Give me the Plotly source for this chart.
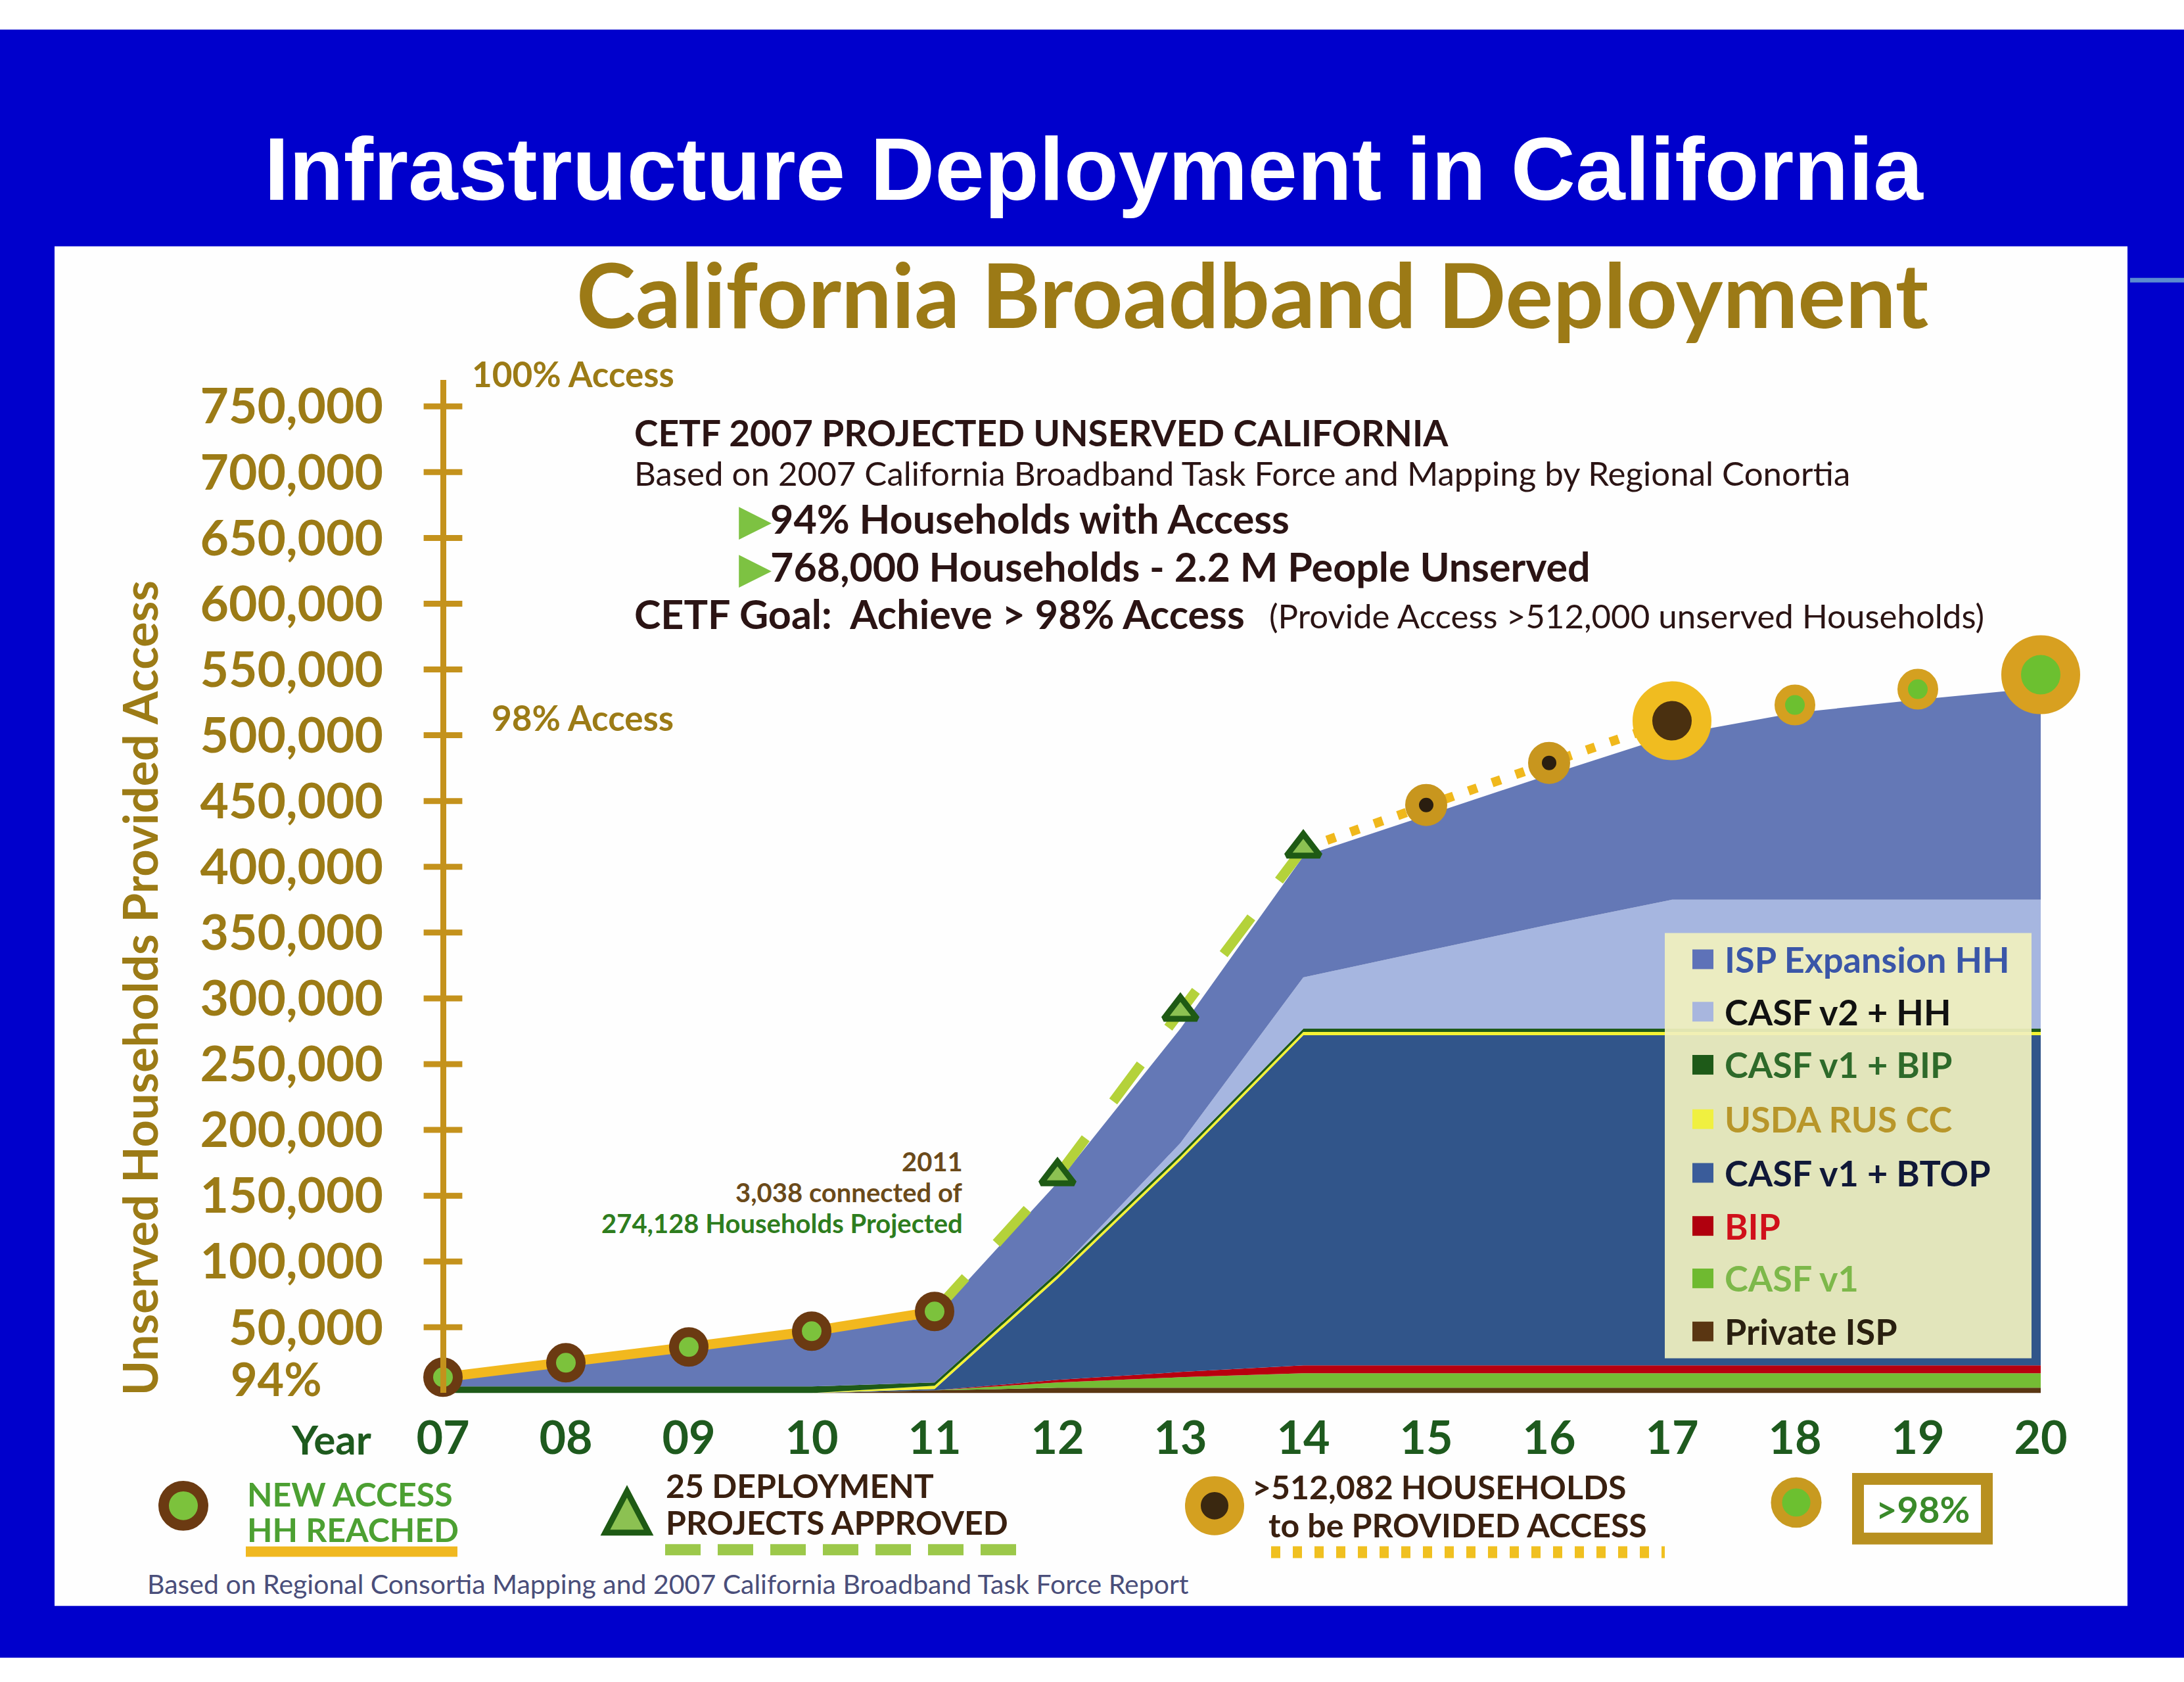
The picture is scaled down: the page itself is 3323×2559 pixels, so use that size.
import plotly.graph_objects as go

W, H = 3323, 2559

# ---------------- data ----------------
year_values = [7, 8, 9, 10, 11, 12, 13, 14, 15, 16, 17, 18, 19, 20]
year_labels = ["07", "08", "09", "10", "11", "12", "13", "14", "15", "16", "17", "18", "19", "20"]

# stacked layers (households), bottom -> top
private_isp   = [0, 0, 0, 0, 2000, 4000, 4000, 4000, 4000, 4000, 4000, 4000, 4000, 4000]
casf_v1       = [0, 0, 0, 0, 0, 4000, 8000, 11000, 11000, 11000, 11000, 11000, 11000, 11000]
bip           = [0, 0, 0, 0, 0, 2000, 4000, 6000, 6000, 6000, 6000, 6000, 6000, 6000]
casf_v1_btop  = [0, 0, 0, 0, 1000, 77000, 161000, 251000, 251000, 251000, 251000, 251000, 251000, 251000]
usda_rus_cc   = [0, 0, 0, 0, 2500, 2500, 2500, 2500, 2500, 2500, 2500, 2500, 2500, 2500]
casf_v1_bip   = [5000, 5000, 5000, 5000, 2500, 2500, 2500, 2500, 2500, 2500, 2500, 2500, 2500, 2500]
casf_v2_hh    = [0, 0, 0, 0, 0, 0, 8000, 39000, 59000, 79000, 98000, 98000, 98000, 98000]
isp_expansion = [4000, 16000, 28000, 40000, 50000, 68000, 87000, 92000, 103000, 114000, 125000, 142000, 152000, 161000]

layer_names = ["Private ISP", "CASF v1", "BIP", "CASF v1 + BTOP", "USDA RUS CC",
               "CASF v1 + BIP", "CASF v2 + HH", "ISP Expansion HH"]
layer_values = [private_isp, casf_v1, bip, casf_v1_btop, usda_rus_cc,
                casf_v1_bip, casf_v2_hh, isp_expansion]
layer_colors = ["#5A3612", "#74BC34", "#B8000F", "#31558A", "#F4F234",
                "#1E5A18", "#A6B6E0", "#6478B6"]
legend_swatch_colors = ["#5A3612", "#6FBA30", "#B0000E", "#3A5C9A", "#F0F040",
                        "#1E5A18", "#A8B6DE", "#5E72B8"]
legend_text_colors = ["#2A2010", "#7DB84A", "#D0101A", "#101838", "#B8962A",
                      "#2E6A2A", "#111111", "#3A56A8"]

new_access_years = [7, 8, 9, 10, 11]
new_access_hh = [12000, 23000, 35000, 47000, 62000]

projects_years = [11, 12, 13, 14]
projects_hh = [62000, 165000, 290000, 414000]

provided_years = [14, 15, 16, 17, 18, 19, 20]
provided_hh = [414000, 447000, 479000, 511000, 523000, 535000, 546000]

y_tick_values = [50000, 100000, 150000, 200000, 250000, 300000, 350000, 400000,
                 450000, 500000, 550000, 600000, 650000, 700000, 750000]
y_tick_labels = ["50,000", "100,000", "150,000", "200,000", "250,000", "300,000", "350,000",
                 "400,000", "450,000", "500,000", "550,000", "600,000", "650,000",
                 "700,000", "750,000"]

# ---------------- helpers ----------------
def X(px):
    return px / W


def Y(py):
    return 1 - py / H


LATO = "Lato, 'Open Sans', sans-serif"
GOLD = "#9C7B16"
AXIS_GOLD = "#C4921C"

fig = go.Figure()

# stacked areas
for name, vals, col in zip(layer_names, layer_values, layer_colors):
    fig.add_trace(go.Scatter(
        x=year_values, y=vals, name=name, stackgroup="hh", mode="lines",
        line=dict(width=0, color=col), fillcolor=col, showlegend=False,
        hoverinfo="skip"))

# dashed projects line
fig.add_trace(go.Scatter(
    x=projects_years, y=projects_hh, mode="lines", showlegend=False,
    line=dict(color="#B4D23A", width=15, dash="70px,70px"), hoverinfo="skip"))

# dotted provided line (14 -> 17)
fig.add_trace(go.Scatter(
    x=provided_years[:4], y=provided_hh[:4], mode="lines", showlegend=False,
    line=dict(color="#F0B81C", width=14, dash="14px,24px"), hoverinfo="skip"))

# new access line + markers
fig.add_trace(go.Scatter(
    x=new_access_years, y=new_access_hh, mode="lines+markers", showlegend=False,
    line=dict(color="#F2B81E", width=15),
    marker=dict(size=45, color="#7CC23C", opacity=1, line=dict(color="#6B3A12", width=15)),
    cliponaxis=False, hoverinfo="skip"))

# triangles
fig.add_trace(go.Scatter(
    x=projects_years[1:], y=projects_hh[1:], mode="markers", showlegend=False,
    marker=dict(symbol="triangle-up", size=44, color="#8CC152", opacity=1,
                line=dict(color="#1E5A14", width=9)),
    cliponaxis=False, hoverinfo="skip"))

# provided markers (15..20)
fig.add_trace(go.Scatter(
    x=provided_years[1:], y=provided_hh[1:], mode="markers", showlegend=False,
    marker=dict(size=[43, 43, 90, 46, 46, 90], opacity=1,
                color=["#2A1E10", "#2A1E10", "#4A3010", "#6CC030", "#6CC030", "#6CC030"],
                line=dict(color=["#C8961E", "#C8961E", "#F0BC20", "#D4A020", "#D4A020", "#D8A020"],
                          width=[21, 21, 30, 16, 16, 30])),
    cliponaxis=False, hoverinfo="skip"))

# cross tick marks on the y axis
fig.add_trace(go.Scatter(
    x=[year_values[0]] * len(y_tick_values), y=y_tick_values, mode="markers",
    showlegend=False, cliponaxis=False, hoverinfo="skip",
    marker=dict(symbol="line-ew", size=42, color=AXIS_GOLD, opacity=1,
                line=dict(color=AXIS_GOLD, width=9))))

# ---------------- shapes ----------------
shapes = []
# blue slide band
shapes.append(dict(type="rect", xref="paper", yref="paper", layer="below",
                   x0=0, x1=1, y0=Y(2522), y1=Y(37), fillcolor="#0000CC", line=dict(width=0)))
# white panel
shapes.append(dict(type="rect", xref="paper", yref="paper", layer="below",
                   x0=X(83), x1=X(3237), y0=Y(2443), y1=Y(368), fillcolor="#FEFEFE", line=dict(width=0)))
# small steel-blue rule at right
shapes.append(dict(type="rect", xref="paper", yref="paper", layer="below",
                   x0=X(3241), x1=1, y0=Y(423), y1=Y(416), fillcolor="#5B8BD0", line=dict(width=0)))

# legend box
shapes.append(dict(type="rect", xref="paper", yref="paper", layer="above",
                   x0=X(2533), x1=X(3091), y0=Y(2065), y1=Y(1416),
                   fillcolor="rgba(240,240,190,0.93)", line=dict(width=0)))
legend_rows = [1456, 1536, 1617, 1700, 1782, 1863, 1943, 2024]
annotations = []
for i, row in enumerate(legend_rows):
    k = len(layer_names) - 1 - i
    shapes.append(dict(type="rect", xref="paper", yref="paper", layer="above",
                       x0=X(2575), x1=X(2607), y0=Y(row + 15), y1=Y(row - 15),
                       fillcolor=legend_swatch_colors[k], line=dict(width=0)))
    annotations.append(dict(x=X(2622), y=Y(row), xref="paper", yref="paper",
                            xanchor="left", yanchor="middle", showarrow=False,
                            text=layer_names[k],
                            font=dict(family=LATO, size=54, weight="bold",
                                      color=legend_text_colors[k])))

# bottom legend symbols
def circle(cx, cy, r, fill, ring, lw):
    return dict(type="circle", xref="paper", yref="paper", layer="above",
                x0=X(cx - r), x1=X(cx + r), y0=Y(cy + r), y1=Y(cy - r),
                fillcolor=fill, line=dict(color=ring, width=lw))

shapes.append(circle(279, 2290, 30, "#7CC23C", "#6B3A12", 16))
shapes.append(dict(type="rect", xref="paper", yref="paper", layer="above",
                   x0=X(374), x1=X(696), y0=Y(2368), y1=Y(2352),
                   fillcolor="#F0B820", line=dict(width=0)))
shapes.append(dict(type="path", xref="paper", yref="paper", layer="above",
                   path=f"M {X(954)},{Y(2268)} L {X(987)},{Y(2331)} L {X(921)},{Y(2331)} Z",
                   fillcolor="#8CC152", line=dict(color="#1E5A14", width=9)))
shapes.append(dict(type="line", xref="paper", yref="paper", layer="above",
                   x0=X(1012), x1=X(1557), y0=Y(2357), y1=Y(2357),
                   line=dict(color="#9CC84A", width=17, dash="54px,26px")))
shapes.append(circle(1848, 2290, 33, "#3A2810", "#D4A020", 24))
shapes.append(dict(type="line", xref="paper", yref="paper", layer="above",
                   x0=X(1934), x1=X(2533), y0=Y(2361), y1=Y(2361),
                   line=dict(color="#F0C020", width=18, dash="14px,19px")))
shapes.append(circle(2733, 2285, 30, "#6CC030", "#C89A20", 17))
shapes.append(dict(type="rect", xref="paper", yref="paper", layer="above",
                   x0=X(2827), x1=X(3023), y0=Y(2340), y1=Y(2249),
                   fillcolor="#FFFFFF", line=dict(color="#B89020", width=18)))

# ---------------- annotations ----------------
def ann(text, x, y, size, color, xanchor="left", weight="bold", family=LATO, yanchor="middle", **kw):
    annotations.append(dict(x=X(x), y=Y(y), xref="paper", yref="paper", text=text,
                            xanchor=xanchor, yanchor=yanchor, showarrow=False,
                            font=dict(family=family, size=size, color=color, weight=weight), **kw))

ann("Infrastructure Deployment in California", 1664, 250, 136, "#FFFFFF", xanchor="center",
    family="'Liberation Sans', Arial, sans-serif")
ann("California Broadband Deployment", 1905, 440, 136, "#9C7A16", xanchor="center")
ann("100% Access", 716, 562, 53, GOLD)
ann("98% Access", 746, 1087, 53, GOLD)
ann("94%", 492, 2096, 70, GOLD, xanchor="right")
ann("Unserved Households Provided Access", 212, 1500, 72, GOLD, xanchor="center",
    textangle=-90)

DARK = "#2B1414"
ann("CETF 2007 PROJECTED UNSERVED CALIFORNIA", 963, 652, 55, DARK)
ann("Based on 2007 California Broadband Task Force and Mapping by Regional Conortia",
    963, 714, 51, DARK, weight="normal")
ann("<span style='color:#7DC242'>▶</span>94% Households with Access", 1122, 783, 61, DARK)
ann("<span style='color:#7DC242'>▶</span>768,000 Households - 2.2 M People Unserved", 1122, 856, 61, DARK)
ann("CETF Goal:  Achieve &gt; 98% Access", 963, 928, 61, DARK)
ann("(Provide Access &gt;512,000 unserved Households)", 1929, 931, 51, DARK, weight="normal")

ann("2011", 1467, 1765, 40, "#6B4A1A", xanchor="right")
ann("3,038 connected of", 1467, 1812, 40, "#6B4A1A", xanchor="right")
ann("274,128 Households Projected", 1467, 1859, 40, "#2E7D1E", xanchor="right")

ann("Year", 504, 2188, 62, "#1E5A1E", xanchor="center")

ann("NEW ACCESS", 374, 2272, 50, "#4CA032")
ann("HH REACHED", 374, 2326, 50, "#4CA032")
ann("25 DEPLOYMENT", 1011, 2259, 50, "#3A2010")
ann("PROJECTS APPROVED", 1011, 2315, 50, "#3A2010")
ann("&gt;512,082 HOUSEHOLDS", 1903, 2261, 50, "#3A2010")
ann("to be PROVIDED ACCESS", 1928, 2319, 50, "#3A2010")
ann("&gt;98%", 2925, 2295, 56, "#3A8A2A", xanchor="center")
ann("Based on Regional Consortia Mapping and 2007 California Broadband Task Force Report",
    222, 2409, 41, "#4A4E7A", weight="normal")

# ---------------- layout ----------------
px_per_year = 187.0
x0 = year_values[0] - 674 / px_per_year
x1 = x0 + W / px_per_year

fig.update_layout(
    width=W, height=H, autosize=False,
    margin=dict(l=0, r=0, t=0, b=0, pad=0),
    paper_bgcolor="#FFFFFF", plot_bgcolor="rgba(0,0,0,0)",
    showlegend=False,
    shapes=shapes, annotations=annotations,
    xaxis=dict(domain=[0, 1], range=[x0, x1], showgrid=False, zeroline=False,
               showline=False, ticks="", tickvals=year_values, ticktext=year_labels,
               tickfont=dict(family=LATO, size=70, color="#1E5A1E", weight="bold"),
               ticklabelstandoff=22),
    yaxis=dict(domain=[1 - 2118 / H, 1 - 572 / H], range=[0, 770000], anchor="free",
               position=674 / W, showgrid=False, zeroline=False, showline=True,
               linecolor=AXIS_GOLD, linewidth=9, ticks="",
               tickvals=y_tick_values, ticktext=y_tick_labels,
               tickfont=dict(family=LATO, size=75, color=GOLD, weight="bold"),
               ticklabelstandoff=72),
)

fig.write_html("out.html")
